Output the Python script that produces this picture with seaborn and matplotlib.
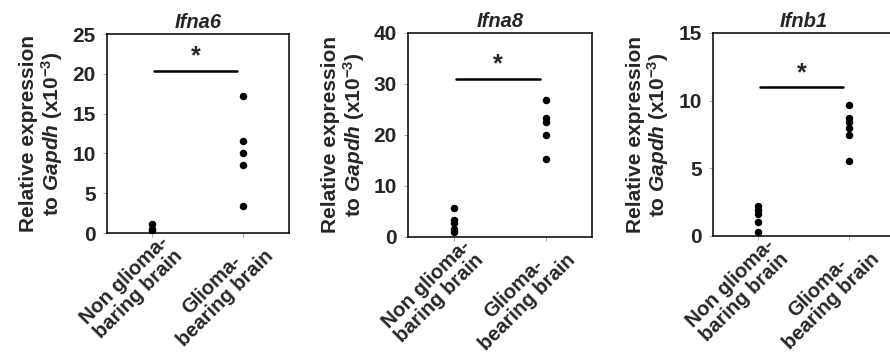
import matplotlib
matplotlib.use("Agg")
import matplotlib.pyplot as plt
import matplotlib.transforms as mtransforms
import seaborn as sns
import pandas as pd

genes = ["Ifna6", "Ifna8", "Ifnb1"]
groups = ["Non glioma-\nbaring brain", "Glioma-\nbearing brain"]

# values (x10^-3)
non_glioma = [
    [1.2, 0.5, 0.2],
    [5.6, 3.4, 2.8, 1.6, 0.9],
    [2.2, 1.95, 1.6, 1.0, 0.3],
]
glioma = [
    [17.2, 11.6, 10.0, 8.5, 3.4],
    [26.8, 23.3, 22.6, 19.9, 15.3],
    [9.65, 8.7, 8.45, 7.95, 7.45, 5.55],
]
y_max = [25, 40, 15]
y_step = [5, 10, 5]
sig_y = [20.4, 31.0, 11.0]

sns.set_style("white")
plt.rcParams["font.family"] = ["Liberation Sans", "DejaVu Sans"]
plt.rcParams["font.weight"] = "bold"
plt.rcParams["mathtext.fontset"] = "custom"
plt.rcParams["mathtext.rm"] = "Liberation Sans:bold"
plt.rcParams["mathtext.it"] = "Liberation Sans:italic:bold"
plt.rcParams["mathtext.bf"] = "Liberation Sans:bold"

fig = plt.figure(figsize=(8.9, 3.58), dpi=100)
# axes boxes [left, bottom, width, height]
boxes = [
    [0.120, 0.349, 0.2045, 0.556],
    [0.4584, 0.338, 0.2067, 0.570],
    [0.801, 0.341, 0.2045, 0.567],
]
shift = mtransforms.ScaledTranslation(0.20, 0.02, fig.dpi_scale_trans)

for i, gene in enumerate(genes):
    ax = fig.add_axes(boxes[i])
    df = pd.DataFrame({
        "group": [groups[0]] * len(non_glioma[i]) + [groups[1]] * len(glioma[i]),
        "value": non_glioma[i] + glioma[i],
    })
    sns.stripplot(data=df, x="group", y="value", order=groups, jitter=False,
                  color="black", size=5.4, ax=ax)

    ax.set_xlim(-0.5, 1.5)
    ax.set_ylim(0, y_max[i])
    ax.set_yticks(range(0, y_max[i] + 1, y_step[i]))

    # significance bar
    ax.plot([0.02, 0.93], [sig_y[i], sig_y[i]], color="black", lw=1.8)
    ax.text(0.475, sig_y[i] + y_max[i] * 0.01, "*", ha="center", va="bottom",
            fontsize=18, fontweight="bold")

    ax.set_title(gene, fontsize=14.5, fontweight="bold", style="italic", pad=4)
    ax.set_xlabel("")
    ax.set_ylabel("Relative expression\nto $\\it{Gapdh}$ (x10$^{-3}$)",
                  fontsize=15, fontweight="bold", labelpad=5, linespacing=1.05)

    for s in ax.spines.values():
        s.set_visible(True)
        s.set_color("black")
        s.set_linewidth(1.1)

    ax.tick_params(axis="y", left=True, length=3, width=0.6, color="#999999",
                   labelsize=15, pad=5)
    ax.tick_params(axis="x", bottom=True, length=3, width=0.6, color="#999999",
                   pad=8)
    ax.set_xticks([0, 1])
    ax.set_xticklabels(groups, rotation=45, ha="right", va="center",
                       rotation_mode="anchor", fontsize=14.5, fontweight="bold",
                       multialignment="center", linespacing=1.05)
    for lbl in ax.get_xticklabels():
        lbl.set_transform(lbl.get_transform() + shift)
    for lbl in ax.get_yticklabels():
        lbl.set_fontweight("bold")

fig.savefig("out.png", dpi=100)
